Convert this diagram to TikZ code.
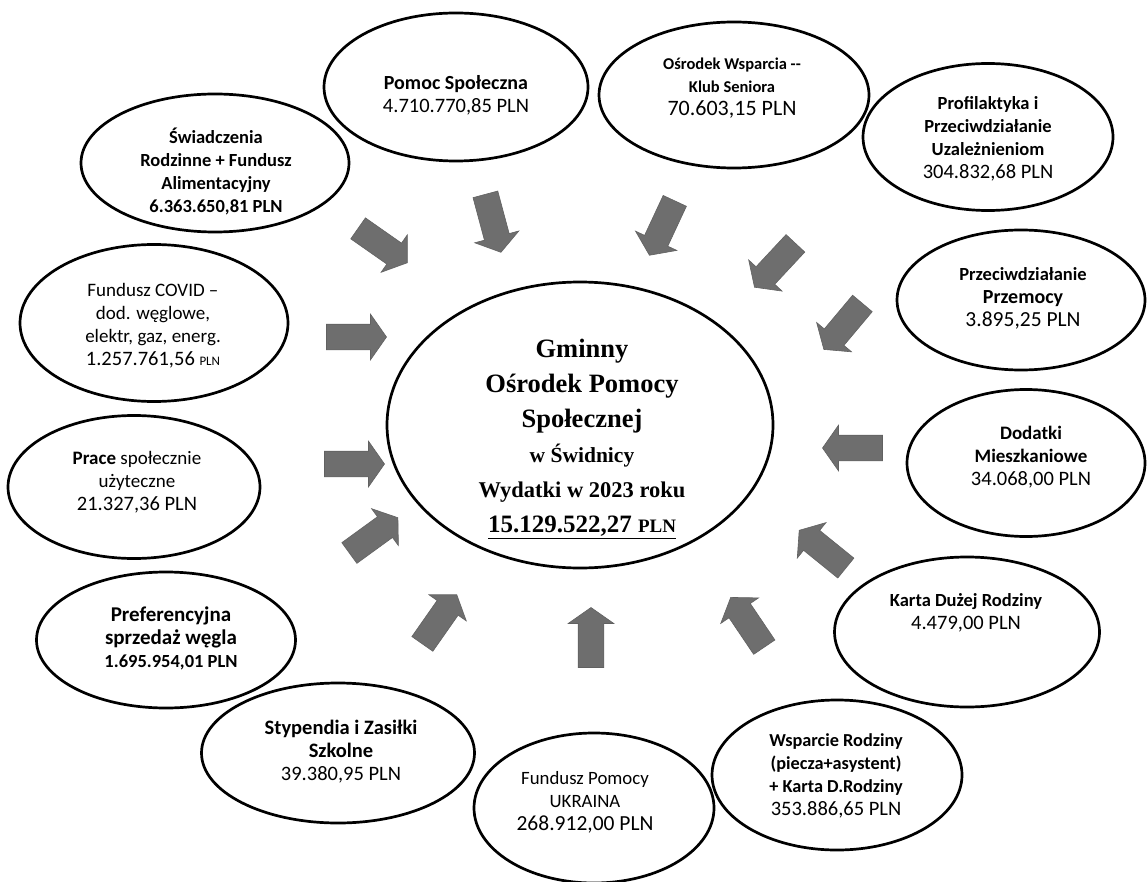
\documentclass[tikz,border=0pt]{standalone}
\usepackage{fontspec}
\setmainfont{Carlito}
\newfontfamily\tnr{Liberation Serif}
\usetikzlibrary{shapes.geometric,shapes.arrows}
\tikzset{
  oval/.style={ellipse, draw=black, line width=2.7pt, inner sep=0pt},
  lbl/.style={align=center, inner sep=0pt, font=\fontsize{19}{23}\selectfont},
  centertext/.style={align=center, inner sep=0pt, font=\tnr\bfseries\fontsize{26.5}{35}\selectfont},
  blockarrow/.style={single arrow, fill=black!57, draw=black!62, line width=0.6pt,
    minimum width=45pt, minimum height=60pt, single arrow head extend=10pt,
    single arrow tip angle=110, single arrow head indent=0pt,
    inner xsep=0pt, inner ysep=12.5pt}
}
\newcommand{\amt}[1]{{\fontsize{20.5}{23}\selectfont #1}}
\newcommand{\fs}[2]{\fontsize{#1}{#2}\selectfont}
\begin{document}
\begin{tikzpicture}[x=1pt,y=-1pt]
\useasboundingbox (0,0) rectangle (1147,882);
\fill[white] (0,0) rectangle (1147,882);

% ellipses
\node[oval, minimum width=264pt, minimum height=148pt] (e1) at (456,87) {};
\node[oval, minimum width=270pt, minimum height=146pt] (e2) at (734,95) {};
\node[oval, minimum width=250pt, minimum height=147pt] (e3) at (988,137) {};
\node[oval, minimum width=268pt, minimum height=138pt] (e4) at (215,163) {};
\node[oval, minimum width=268pt, minimum height=157pt] (e5) at (154,323) {};
\node[oval, minimum width=248pt, minimum height=140pt] (e6) at (1021,300) {};
\node[oval, minimum width=386pt, minimum height=286pt] (e7) at (580,425) {};
\node[oval, minimum width=252pt, minimum height=143pt] (e8) at (134,487) {};
\node[oval, minimum width=238pt, minimum height=147pt] (e9) at (1026,463) {};
\node[oval, minimum width=259pt, minimum height=136pt] (e10) at (166,640) {};
\node[oval, minimum width=265pt, minimum height=150pt] (e11) at (967,632) {};
\node[oval, minimum width=273pt, minimum height=140pt] (e12) at (338,753) {};
\node[oval, minimum width=250pt, minimum height=150pt] (e13) at (837,775) {};
\node[oval, minimum width=240pt, minimum height=150pt] (e14) at (594,808) {};

% texts
\node[lbl] (t1) at (456,95) {\textbf{\fs{20}{24}Pomoc Społeczna}\\ \amt{4.710.770,85 PLN}};
\node[lbl] (t2) at (732,88) {\textbf{\fs{16.5}{22.5}Ośrodek Wsparcia -{}-}\\ \textbf{\fs{16.5}{22.5}Klub Seniora}\\ {\fs{22}{25}70.603,15 PLN}};
\node[lbl] (t3) at (988,139) {\textbf{\fs{18.5}{22.7}Profilaktyka i}\\ \textbf{\fs{18.5}{22.7}Przeciwdziałanie}\\ \textbf{\fs{18.5}{22.7}Uzależnieniom}\\ {\fs{20.5}{22.7}304.832,68 PLN}};
\node[lbl] (t4) at (216,171) {\textbf{\fs{18.5}{22.7}Świadczenia}\\ \textbf{\fs{18.5}{22.7}Rodzinne + Fundusz}\\ \textbf{\fs{18.5}{22.7}Alimentacyjny}\\ \textbf{\fs{18.5}{22.7}6.363.650,81 PLN}};
\node[lbl] (t5) at (153,326) {\fs{19}{24}Fundusz COVID –\\ \fs{19}{24}dod. węglowe,\\ \fs{19}{24}elektr, gaz, energ.\\ {\fs{20.5}{24}1.257.761,56 {\fs{13}{14}PLN}}};
\node[lbl] (t6) at (1023,298) {\textbf{\fs{18.5}{25}Przeciwdziałanie}\\ \textbf{\fs{20}{25}Przemocy}\\ {\fs{21.5}{25}3.895,25 PLN}};
\node[centertext] (t7) at (582,439) {Gminny\\
  Ośrodek Pomocy\\
  Społecznej\\
  {\fs{21.5}{33}w Świdnicy}\\
  {\fs{22.5}{33}Wydatki w 2023 roku}\\
  \underline{{\fs{25}{35}15.129.522,27 }{\fs{19}{22}PLN}}};
\node[lbl] (t8) at (137,482) {\textbf{Prace} społecznie\\ użyteczne\\ \amt{21.327,36 PLN}};
\node[lbl] (t9) at (1031,457) {\textbf{\fs{19}{22}Dodatki}\\ \textbf{\fs{19}{22}Mieszkaniowe}\\ {\fs{20.5}{22}34.068,00 PLN}};
\node[lbl] (t10) at (171,638) {\textbf{\fs{21}{25}Preferencyjna}\\ \textbf{\fs{21}{25}sprzedaż węgla}\\ \textbf{\fs{18.5}{23}1.695.954,01 PLN}};
\node[lbl] (t11) at (966,613) {\textbf{\fs{18.5}{23}Karta Dużej Rodziny}\\ \amt{4.479,00 PLN}};
\node[lbl] (t12) at (341,752) {\textbf{\fs{20.5}{25}Stypendia i Zasiłki}\\ \textbf{\fs{20.5}{25}Szkolne}\\ {\fs{20.5}{25}39.380,95 PLN}};
\node[lbl] (t13) at (836,776) {\textbf{\fs{18.3}{22.5}Wsparcie Rodziny}\\ \textbf{\fs{18.3}{22.5}(piecza+asystent)}\\ \textbf{\fs{18.3}{22.5}+ Karta D.Rodziny}\\ {\fs{20.5}{22.5}353.886,65 PLN}};
\node[lbl] (t14) at (585,802) {\fs{18.8}{23.5}Fundusz Pomocy\\ \fs{18.8}{23.5}UKRAINA\\ {\fs{21.5}{23.5}268.912,00 PLN}};

% block arrows
\node[blockarrow, rotate=-35] (a1) at (379,243) {};
\node[blockarrow, rotate=-75] (a2) at (492,219) {};
\node[blockarrow, rotate=-115] (a3) at (664,224) {};
\node[blockarrow, rotate=-133] (a4) at (778,262) {};
\node[blockarrow, rotate=-130] (a5) at (846,323) {};
\node[blockarrow, rotate=180] (a6) at (857,448) {};
\node[blockarrow, rotate=141] (a7) at (826,552) {};
\node[blockarrow, rotate=124] (a8) at (750,626) {};
\node[blockarrow, rotate=90] (a9) at (591,642) {};
\node[blockarrow, rotate=55] (a10) at (437,623) {};
\node[blockarrow, rotate=36] (a11) at (370,538) {};
\node[blockarrow, rotate=0] (a12) at (350,464) {};
\node[blockarrow, rotate=0] (a13) at (352,337) {};
\end{tikzpicture}
\end{document}
